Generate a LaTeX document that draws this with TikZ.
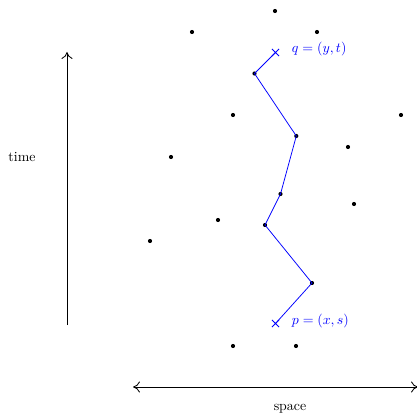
\documentclass[tikz,border=0pt]{standalone}
\usepackage{amsmath}
\usepackage{tikz}
\usetikzlibrary{arrows.meta,shapes.misc}

\begin{document}
\begin{tikzpicture}[
    x=0.72pt,y=-0.72pt,
    >={To[length=5pt,width=8pt]},
    event/.style={circle,fill=black,inner sep=0pt,minimum size=3pt},
    endpt/.style={cross out,draw=blue,inner sep=0pt,minimum size=4.5pt,
      line width=0.7pt},
    worldline/.style={draw=blue,line width=0.55pt},
    axis/.style={line width=0.6pt},
    lbl/.style={text=blue,anchor=west}
  ]
    \useasboundingbox (0,0) rectangle (417,416);

    % Background events.
    \foreach \px/\py [count=\i] in {275/11,192/32,317/32,233/115,401/115,
        171/157,348/147,354/204,218/220,150/241,233/346,296/346}
      \node[event] (e\i) at (\px,\py) {};

    % World line from p to q.
    \node[endpt] (p) at (275.5,323.5) {};
    \node[event] (w1) at (312,283) {};
    \node[event] (w2) at (265,225) {};
    \node[event] (w3) at (280.5,194) {};
    \node[event] (w4) at (296.3,136) {};
    \node[event] (w5) at (254.5,73.5) {};
    \node[endpt] (q) at (275.5,52.5) {};
    \draw[worldline] (p.center) -- (w1.center) -- (w2.center) -- (w3.center)
      -- (w4.center) -- (w5.center) -- (q.center);
    \node[lbl] (plbl) at (287,321) {$p=(x,s)$};
    \node[lbl] (qlbl) at (287,49) {$q=(y,t)$};

    % Axes.
    \coordinate (tlow) at (67,325);
    \coordinate (thigh) at (67,52);
    \draw[axis,->] (tlow) -- (thigh);
    \node (tlbl) at (22,157) {time};
    \coordinate (sleft) at (133,387);
    \coordinate (sright) at (418,387);
    \draw[axis,<->] (sleft) -- (sright);
    \node (slbl) at (290,409) {space};
  \end{tikzpicture}
\end{document}
